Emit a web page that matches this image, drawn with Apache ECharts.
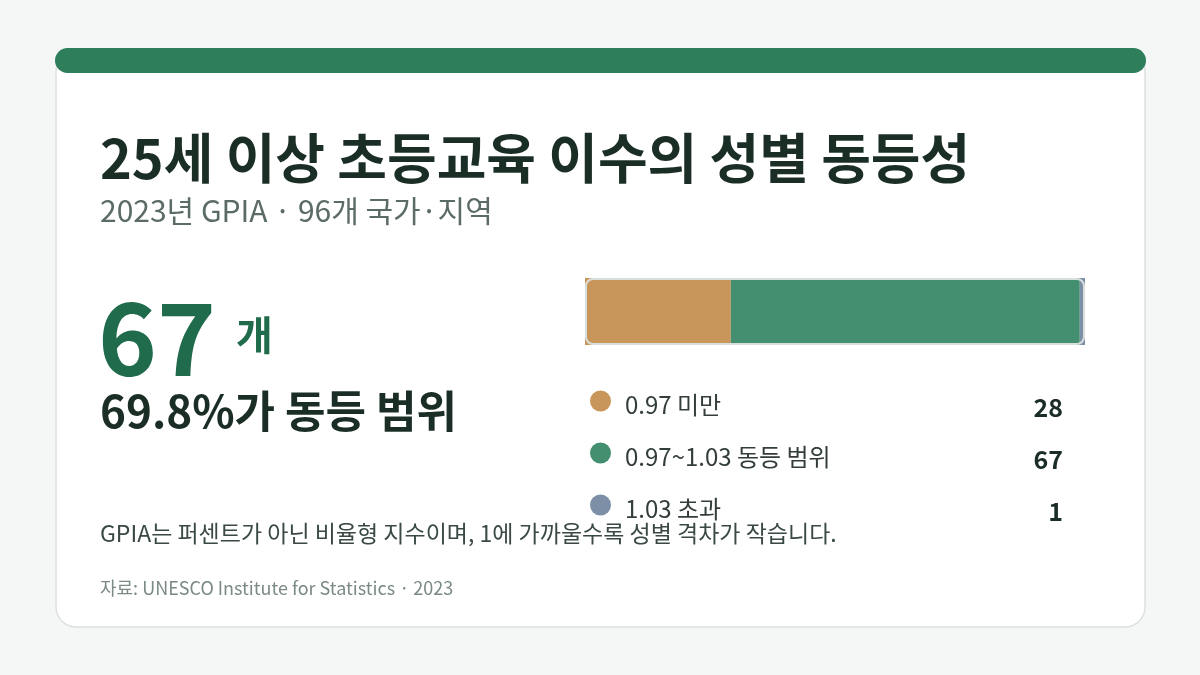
<!DOCTYPE html>
<html>
<head>
<meta charset="UTF-8">
<title>GPIA</title>
<script src="https://cdn.jsdelivr.net/npm/echarts@6/dist/echarts.min.js"></script>
<style>
  * {margin: 0; padding: 0;}
  body {background: #f5f7f6;}
  #chart {width: 1200px; height: 675px;}
</style>
</head>
<body>
<div id="chart"></div>
<script>
  // 데이터
  var categories = ['0.97 미만', '0.97~1.03 동등 범위', '1.03 초과'];
  var counts = [28, 67, 1];
  var colors = ['#c8965a', '#448f6f', '#7d8fa6'];
  var total = 96;

  var FONT = '"Noto Sans CJK KR", "Noto Sans", sans-serif';
  var chart = echarts.init(document.getElementById('chart'));

  var series = categories.map(function (name, i) {
    return {
      name: name,
      type: 'bar',
      stack: 'all',
      barWidth: 67,
      silent: true,
      itemStyle: {color: colors[i]},
      data: [counts[i]]
    };
  });

  var graphics = [
    // 카드
    {type: 'rect', z: -10, shape: {x: 56, y: 52, width: 1089, height: 575, r: 20},
      style: {fill: '#ffffff', stroke: '#dce2df', lineWidth: 1.5}},
    {type: 'rect', z: -9, shape: {x: 55, y: 48, width: 1091, height: 25, r: 12.5},
      style: {fill: '#2e7d5b'}},
    // 제목
    {type: 'text', x: 100, y: 158, style: {text: '25세 이상 초등교육 이수의 성별 동등성',
      font: 'bold 54px ' + FONT, fill: '#1b2e26', verticalAlign: 'middle'}},
    {type: 'text', x: 100, y: 211, style: {text: '2023년 GPIA · 96개 국가·지역',
      font: '30px ' + FONT, fill: '#5b6b65', verticalAlign: 'middle'}},
    // 핵심 수치
    {type: 'text', x: 98, y: 338, style: {text: String(counts[1]),
      font: 'bold 100px ' + FONT, fill: '#1f6b4b', verticalAlign: 'middle'}},
    {type: 'text', x: 236, y: 335, style: {text: '개',
      font: 'bold 40px ' + FONT, fill: '#1f6b4b', verticalAlign: 'middle'}},
    {type: 'text', x: 100, y: 411, style: {text: (counts[1] / total * 100).toFixed(1) + '%가 동등 범위',
      font: 'bold 44px ' + FONT, fill: '#1b2e26', verticalAlign: 'middle'}},
    // 막대 테두리
    {type: 'rect', z: 100, shape: {x: 586, y: 279, width: 498, height: 65, r: 7},
      style: {fill: null, stroke: '#d9dfdc', lineWidth: 2}},
    // 주석
    {type: 'text', x: 100, y: 533, style: {text: 'GPIA는 퍼센트가 아닌 비율형 지수이며, 1에 가까울수록 성별 격차가 작습니다.',
      font: '23px ' + FONT, fill: '#3a4944', verticalAlign: 'middle'}},
    {type: 'text', x: 100, y: 588, style: {text: '자료: UNESCO Institute for Statistics · 2023',
      font: '18px ' + FONT, fill: '#7b8a84', verticalAlign: 'middle'}}
  ];

  // 범례
  categories.forEach(function (name, i) {
    var y = 405 + i * 52;
    graphics.push({type: 'circle', shape: {cx: 600.5, cy: y - 4, r: 10.5}, style: {fill: colors[i]}});
    graphics.push({type: 'text', x: 625, y: y, style: {text: name,
      font: '24px ' + FONT, fill: '#333d39', verticalAlign: 'middle'}});
    graphics.push({type: 'text', x: 1063, y: y + 2, style: {text: String(counts[i]),
      font: 'bold 25px ' + FONT, fill: '#1b2e26', align: 'right', verticalAlign: 'middle'}});
  });

  var option = {
    animation: false,
    grid: {left: 585, top: 278, width: 500, height: 67},
    xAxis: {type: 'value', min: 0, max: total, show: false},
    yAxis: {type: 'category', data: ['GPIA'], show: false},
    series: series,
    graphic: graphics
  };

  chart.setOption(option);
</script>
</body>
</html>
